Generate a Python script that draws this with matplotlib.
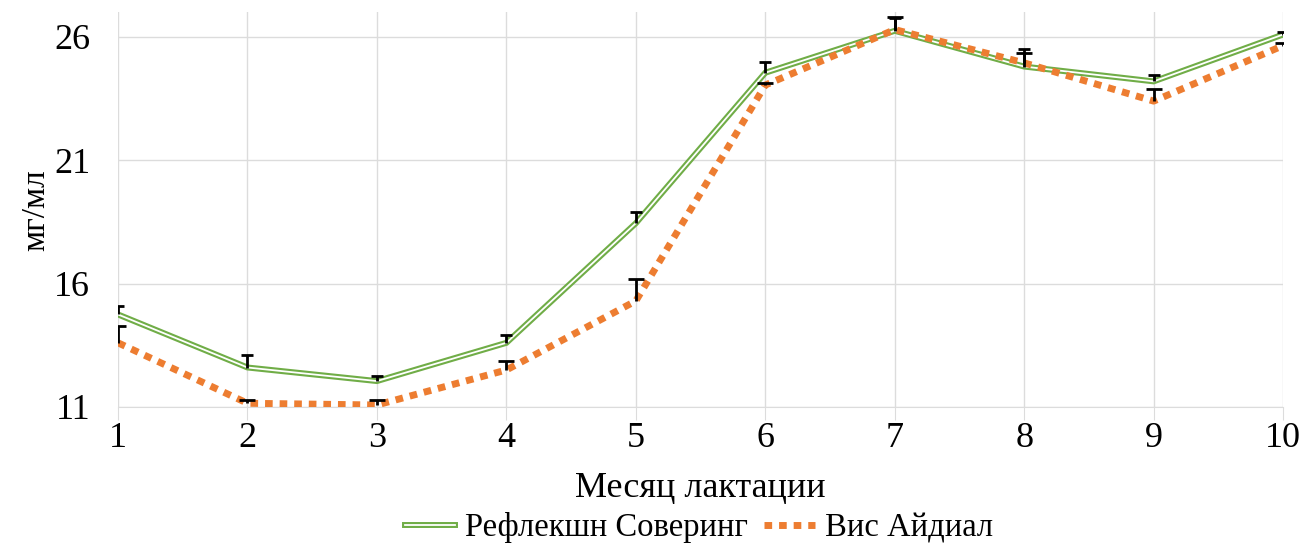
import matplotlib
matplotlib.use("Agg")
import matplotlib.pyplot as plt
from matplotlib.lines import Line2D
from matplotlib.legend_handler import HandlerTuple

months = [1, 2, 3, 4, 5, 6, 7, 8, 9, 10]
reflection = [14.75, 12.6, 12.05, 13.6, 18.45, 24.55, 26.25, 24.8, 24.2, 26.1]
reflection_err = [0.35, 0.5, 0.2, 0.3, 0.45, 0.45, 0.5, 0.7, 0.25, 0.1]
vis = [13.6, 11.15, 11.08, 12.5, 15.3, 24.05, 26.3, 24.95, 23.4, 25.65]
vis_err = [0.7, 0.15, 0.2, 0.35, 0.9, 0.1, 0.5, 0.4, 0.5, 0.1]
yticks = [11, 16, 21, 26]
label_a = "Рефлекшн Соверинг"
label_b = "Вис Айдиал"

plt.rcParams['font.family'] = ['Liberation Serif', 'DejaVu Serif']
green = '#70AD47'
orange = '#ED7D31'

fig = plt.figure(figsize=(13.16, 5.47), dpi=100)
ax = fig.add_axes([0.0897, 0.256, 0.8853, 0.7215])

ax.plot(months, reflection, color=green, lw=4.3, zorder=3, solid_joinstyle='miter')
ax.plot(months, reflection, color='white', lw=1.3, zorder=4, solid_joinstyle='miter')
ax.plot(months, vis, color=orange, lw=5, dashes=(1.1, 1.0), dash_capstyle='butt', zorder=5)

# upward-only error bars with top cap
for vals, errs, cw in ((reflection, reflection_err, 9), (vis, vis_err, 11)):
    tops = [v + e for v, e in zip(vals, errs)]
    ax.vlines(months, vals, tops, colors='black', lw=2, zorder=6)
    ax.plot(months, tops, ls='none', marker='_', ms=cw, mew=2, color='black', zorder=6)

ax.set_xlim(1, 10)
ax.set_ylim(11, 27)
ax.set_xticks(months)
ax.set_yticks(yticks)
ax.grid(True, color='#DCDCDC', lw=1)
ax.set_axisbelow(True)
for s in ax.spines.values():
    s.set_visible(False)
ax.spines['bottom'].set_visible(True)
ax.spines['bottom'].set_color('#DCDCDC')
ax.tick_params(axis='x', length=9, color='#DCDCDC', labelsize=26, pad=2)
ax.tick_params(axis='y', length=0, labelsize=26, pad=20)
ax.set_xlabel('Месяц лактации', fontsize=26, labelpad=12)
ax.set_ylabel('мг/мл', fontsize=24, labelpad=2)

h1 = (Line2D([], [], color=green, lw=4.3), Line2D([], [], color='white', lw=1.3))
h2 = Line2D([], [], color=orange, lw=5, dashes=(1.1, 1.0), dash_capstyle='butt')
fig.legend([h1, h2], [label_a, label_b], handler_map={tuple: HandlerTuple(ndivide=1)},
           loc='center', bbox_to_anchor=(0.531, 0.035), ncol=2, frameon=False,
           fontsize=23.5, handlelength=1.55, handletextpad=0.3, columnspacing=0.5)

fig.savefig('out.png', dpi=100)
